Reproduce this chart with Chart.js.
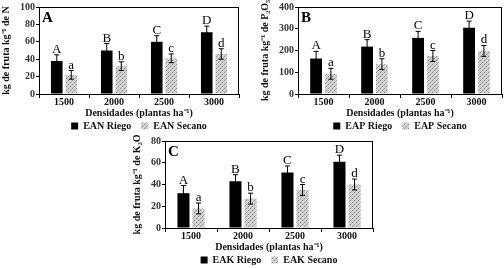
<!DOCTYPE html>
<html>
<head>
<meta charset="utf-8">
<script src="https://cdn.jsdelivr.net/npm/chart.js@4"></script>
<style>
  body { margin: 0; background: #fff; }
  .p { position: absolute; height: 134px; }
</style>
</head>
<body>
<div class="p" style="left:0;top:0;width:250px"><canvas id="chartA"></canvas></div>
<div class="p" style="left:252px;top:0;width:252px"><canvas id="chartB"></canvas></div>
<div class="p" style="left:120px;top:134px;width:263px"><canvas id="chartC"></canvas></div>
<script>
const densidades = ['1500', '2000', '2500', '3000'];

// panel A: N
const riegoN = [38, 50, 60, 71];
const riegoNErr = [7, 8, 7, 7];
const secanoN = [22, 32, 41, 46];
const secanoNErr = [5, 5, 5, 6];

// panel B: P2O5
const riegoP = [163, 218, 258, 305];
const riegoPErr = [33, 32, 30, 30];
const secanoP = [93, 137, 175, 198];
const secanoPErr = [25, 25, 25, 25];

// panel C: K2O
const riegoK = [32, 43, 51, 61];
const riegoKErr = [7, 6, 6, 6];
const secanoK = [18, 27, 35, 40];
const secanoKErr = [5, 5, 5, 5];

const letrasRiego = ['A', 'B', 'C', 'D'];
const letrasSecano = ['a', 'b', 'c', 'd'];

const serif = "'Liberation Serif', 'Times New Roman', serif";

function make_pattern() {
    const c = document.createElement('canvas');
    c.width = 4; c.height = 4;
    const g = c.getContext('2d');
    g.fillStyle = '#d2d2d2';
    g.fillRect(0, 0, 4, 4);
    g.fillStyle = '#8e8e8e';
    g.fillRect(0, 0, 1, 1);
    g.fillRect(2, 2, 1, 1);
    g.fillStyle = '#b2b2b2';
    g.fillRect(1, 3, 1, 1);
    g.fillRect(3, 1, 1, 1);
    return g.createPattern(c, 'repeat');
}
const secanoFill = make_pattern();

// error bars, letters, frame and panel label
const extras = {
    id: 'extras',
    afterDatasetsDraw(chart, args, opts) {
        const ctx = chart.ctx;
        const y = chart.scales.y;
        ctx.save();
        chart.data.datasets.forEach((ds, i) => {
            chart.getDatasetMeta(i).data.forEach((bar, j) => {
                const top = y.getPixelForValue(ds.data[j] + opts.errs[i][j]);
                const bot = y.getPixelForValue(ds.data[j] - opts.errs[i][j]);
                ctx.strokeStyle = '#000';
                ctx.lineWidth = 1;
                ctx.beginPath();
                ctx.moveTo(bar.x, top); ctx.lineTo(bar.x, bot);
                ctx.moveTo(bar.x - 2.5, top); ctx.lineTo(bar.x + 2.5, top);
                ctx.moveTo(bar.x - 2.5, bot); ctx.lineTo(bar.x + 2.5, bot);
                ctx.stroke();
                ctx.fillStyle = '#000';
                ctx.font = '13px ' + serif;
                ctx.textAlign = 'center';
                ctx.textBaseline = 'alphabetic';
                ctx.fillText(opts.letters[i][j], bar.x, top - 2);
            });
        });
        const a = chart.chartArea;
        ctx.strokeStyle = '#000';
        ctx.lineWidth = 1;
        ctx.strokeRect(a.left + 0.5, a.top + 0.5, a.right - a.left - 1, a.bottom - a.top);
        ctx.fillStyle = '#000';
        ctx.font = 'bold 15px ' + serif;
        ctx.textAlign = 'left';
        ctx.textBaseline = 'alphabetic';
        ctx.fillText(opts.label, a.left + 3, a.top + 15);
        ctx.restore();
    }
};

function make_chart(id, label, yTitle, names, riego, riegoErr, secano, secanoErr, yMax, yStep, padL, padR) {
    return new Chart(document.getElementById(id), {
        type: 'bar',
        data: {
            labels: densidades,
            datasets: [
                { label: names[0], data: riego, backgroundColor: '#000', borderWidth: 0 },
                { label: names[1], data: secano, backgroundColor: secanoFill, borderWidth: 0 }
            ]
        },
        options: {
            responsive: true,
            maintainAspectRatio: false,
            animation: false,
            layout: { padding: { top: 0, right: padR, left: padL, bottom: 0 } },
            datasets: { bar: { categoryPercentage: 0.58, barPercentage: 0.8 } },
            scales: {
                x: {
                    grid: { display: true, drawOnChartArea: false, offset: true, color: '#000', tickLength: 4 },
                    border: { color: '#000' },
                    ticks: { color: '#111', font: { family: serif, size: 10, weight: 'bold', lineHeight: 1 }, padding: -1 },
                    title: { display: true, text: 'Densidades (plantas ha\u207B\u00B9)', color: '#111',
                             font: { family: serif, size: 10, weight: 'bold', lineHeight: 1 }, padding: { top: 2, bottom: -7 } }
                },
                y: {
                    min: 0, max: yMax,
                    grid: { display: true, drawOnChartArea: false, color: '#000', tickLength: 3 },
                    border: { color: '#000' },
                    ticks: { stepSize: yStep, autoSkip: false, color: '#333', font: { family: serif, size: 10, weight: 'bold' }, padding: 1 },
                    title: { display: true, text: yTitle, color: '#111',
                             font: { family: serif, size: 10, weight: 'bold', lineHeight: 1 }, padding: { top: 1, bottom: 8 } }
                }
            },
            plugins: {
                legend: {
                    position: 'bottom',
                    fullSize: false,
                    maxHeight: 23,
                    labels: { boxWidth: 7, boxHeight: 7, padding: 10, color: '#111',
                              font: { family: serif, size: 10, weight: 'bold' } }
                },
                tooltip: { enabled: false },
                extras: { label: label, errs: [riegoErr, secanoErr], letters: [letrasRiego, letrasSecano] }
            }
        },
        plugins: [extras]
    });
}

make_chart('chartA', 'A', 'kg de fruta kg\u207B\u00B9 de N', ['EAN Riego', 'EAN Secano'],
    riegoN, riegoNErr, secanoN, secanoNErr, 100, 20, 0, 11);
make_chart('chartB', 'B', 'kg de fruta kg\u207B\u00B9 de P\u2082O\u2085', ['EAP Riego', 'EAP Secano'],
    riegoP, riegoPErr, secanoP, secanoPErr, 400, 100, 7, 2);
make_chart('chartC', 'C', 'kg de fruta kg\u207B\u00B9 de K\u2082O', ['EAK Riego', 'EAK Secano'],
    riegoK, riegoKErr, secanoK, secanoKErr, 80, 20, 11, 10);
</script>
</body>
</html>
